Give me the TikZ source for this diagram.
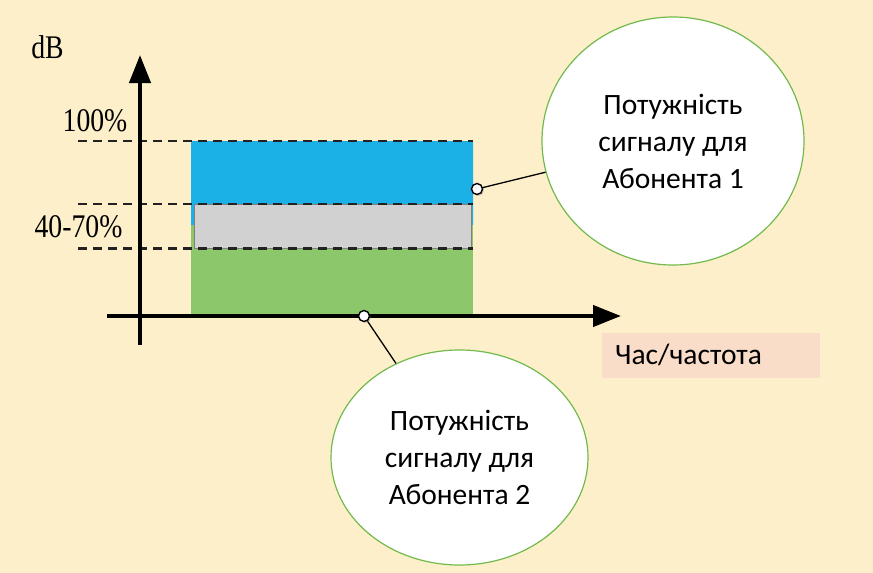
\documentclass[tikz,border=0pt]{standalone}
\usepackage{fontspec}
\setmainfont{Liberation Serif}
\newfontfamily\labelfont{Carlito}
\usetikzlibrary{arrows.meta,shapes.geometric,shadows}

\definecolor{cream}{HTML}{FCEFCA}
\definecolor{peach}{HTML}{FADDC8}
\definecolor{skyband}{HTML}{1BB0E6}
\definecolor{leafband}{HTML}{8DC76B}
\definecolor{greyband}{HTML}{D1D1D1}
\definecolor{rimgreen}{HTML}{72BA4C}
\definecolor{dashgrey}{HTML}{222222}

% narrow, tall serif lettering for the scale labels
\newcommand{\tallserif}[1]{\scalebox{0.84}[1]{#1}}

\tikzset{
  axisline/.style={line width=4.2pt, -{Triangle[length=28pt,width=21pt]}},
  levelline/.style={draw=dashgrey, line width=2.2pt, dash pattern=on 9pt off 6pt},
  scalelabel/.style={font=\fontsize{33}{35}\selectfont, inner sep=0pt},
  bubble/.style={ellipse, draw=rimgreen, line width=1.2pt, fill=white, inner sep=0pt,
    align=center, font=\labelfont\fontsize{29.5}{37}\selectfont},
  marker/.style={circle, draw=black, line width=1.4pt, fill=white, inner sep=0pt,
    minimum size=11pt, drop shadow={opacity=0.35, shadow xshift=1.5pt, shadow yshift=-1.5pt}},
  leader/.style={draw=black, line width=1.3pt},
}

\begin{document}
\begin{tikzpicture}[x=1pt,y=-1pt]
  % page background
  \fill[cream] (0,0) rectangle (873,573);
  \useasboundingbox (0,0) rectangle (873,573);

  % signal bands
  \fill[skyband, rounded corners=1.5pt] (191,141) rectangle (473,226);
  \fill[leafband] (191,225) rectangle (473,315);
  \filldraw[fill=greyband, draw=gray, line width=0.8pt] (194.5,204) rectangle (471,248.5);

  % level lines
  \coordinate (l1a) at (78,141);  \coordinate (l1b) at (473,141);
  \coordinate (l2a) at (78,204);  \coordinate (l2b) at (473,204);
  \coordinate (l3a) at (78,248.5);\coordinate (l3b) at (473,248.5);
  \draw[levelline] (l1a) -- (l1b);
  \draw[levelline] (l2a) -- (l2b);
  \draw[levelline] (l3a) -- (l3b);

  % axes
  \coordinate (ybot) at (140,345);
  \coordinate (ytop) at (140,55);
  \coordinate (xleft) at (107,316);
  \coordinate (xright) at (621,316);
  \draw[axisline] (ybot) -- (ytop);
  \draw[axisline] (xleft) -- (xright);

  % scale labels
  \node[scalelabel] (db) at (47.5,47) {\tallserif{dB}};
  \node[scalelabel] (full) at (95,121) {\tallserif{100\%}};
  \node[scalelabel] (part) at (78.5,227) {\tallserif{40-70\%}};

  % axis caption
  \node[fill=peach, minimum width=218pt, minimum height=45pt, inner xsep=13pt,
        text width=192pt, align=left, anchor=west, font=\labelfont\fontsize{29.5}{32}\selectfont]
        (freq) at (602,355) {Час/частота};

  % callouts
  \node[bubble, minimum width=262pt, minimum height=248pt] (sub1) at (673,141)
    {Потужність\\сигналу для\\Абонента 1};
  \node[bubble, minimum width=257pt, minimum height=215pt] (sub2) at (459.5,457.5)
    {Потужність\\сигналу для\\Абонента 2};

  % leader lines with their anchor markers
  \coordinate (p1) at (477,189);
  \coordinate (p2) at (364,316);
  \draw[leader] (p1) -- (sub1);
  \draw[leader] (p2) -- (sub2);
  \node[marker] (m1) at (p1) {};
  \node[marker] (m2) at (p2) {};
\end{tikzpicture}
\end{document}
